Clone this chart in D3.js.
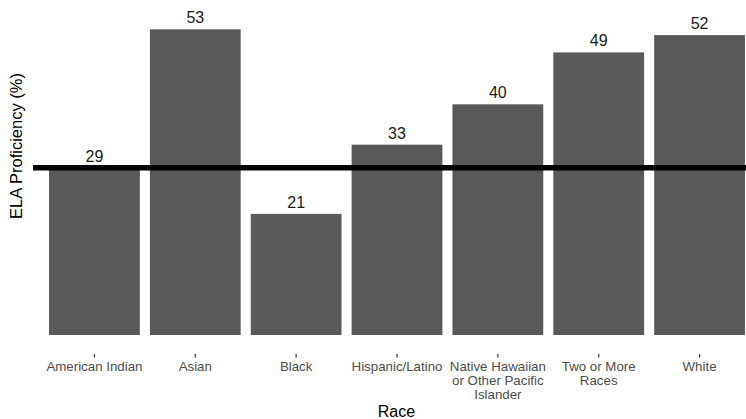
<!DOCTYPE html>
<html>
<head>
<meta charset="utf-8">
<script src="https://cdn.jsdelivr.net/npm/d3@7"></script>
<style>
  body { margin: 0; background: #fff; }
  svg { display: block; font-family: "Liberation Sans", Arial, sans-serif; }
</style>
</head>
<body>
<div id="chart"></div>
<script>
// data
var races = ["American Indian", "Asian", "Black", "Hispanic/Latino",
             "Native Hawaiian or Other Pacific Islander", "Two or More Races", "White"];
var raceLines = [["American Indian"], ["Asian"], ["Black"], ["Hispanic/Latino"],
                 ["Native Hawaiian", "or Other Pacific", "Islander"], ["Two or More", "Races"], ["White"]];
var proficiency = [29, 53, 21, 33, 40, 49, 52];
var reference = 29;

var width = 746, height = 419;

var svg = d3.select("#chart")
    .append("svg")
    .attr("width", width)
    .attr("height", height);

var x = d3.scaleBand()
    .domain(races)
    .range([44, 750])
    .paddingInner(0.1)
    .paddingOuter(0.05);

var y = d3.scaleLinear()
    .domain([0, 58])
    .range([335, 0.5]);

// bars
svg.append("g")
    .selectAll("rect")
    .data(proficiency)
    .enter()
    .append("rect")
    .attr("x", function (d, i) { return x(races[i]); })
    .attr("y", function (d) { return y(d); })
    .attr("width", x.bandwidth())
    .attr("height", function (d) { return y(0) - y(d); })
    .attr("fill", "#595959");

// value labels
svg.append("g")
    .selectAll("text")
    .data(proficiency)
    .enter()
    .append("text")
    .attr("x", function (d, i) { return x(races[i]) + x.bandwidth() / 2; })
    .attr("y", function (d) { return y(d) - 6; })
    .attr("text-anchor", "middle")
    .attr("font-size", 16)
    .attr("fill", "#1a1a1a")
    .text(function (d) { return d; });

// reference line
svg.append("line")
    .attr("x1", 33)
    .attr("x2", width)
    .attr("y1", y(reference))
    .attr("y2", y(reference))
    .attr("stroke", "#000")
    .attr("stroke-width", 5.5);

// x axis
var xAxis = svg.append("g")
    .attr("transform", "translate(0,354)")
    .call(d3.axisBottom(x).tickSize(3.5).tickFormat(""));
xAxis.select(".domain").remove();
xAxis.selectAll(".tick line").attr("stroke", "#333").attr("stroke-width", 1.2);

var tickText = svg.append("g")
    .selectAll("text")
    .data(races)
    .enter()
    .append("text")
    .attr("x", function (d) { return x(d) + x.bandwidth() / 2; })
    .attr("y", 371)
    .attr("text-anchor", "middle")
    .attr("font-size", 13.3)
    .attr("fill", "#4d4d4d");

tickText.selectAll("tspan")
    .data(function (d, i) { return raceLines[i]; })
    .enter()
    .append("tspan")
    .attr("x", function () { return d3.select(this.parentNode).attr("x"); })
    .attr("dy", function (d, i) { return i === 0 ? 0 : 14; })
    .text(function (d) { return d; });

// axis titles
svg.append("text")
    .attr("x", 396.5)
    .attr("y", 417)
    .attr("text-anchor", "middle")
    .attr("font-size", 16)
    .attr("fill", "#000")
    .text("Race");

svg.append("text")
    .attr("transform", "translate(22,146) rotate(-90)")
    .attr("text-anchor", "middle")
    .attr("font-size", 16.5)
    .attr("fill", "#000")
    .text("ELA Proficiency (%)");
</script>
</body>
</html>
